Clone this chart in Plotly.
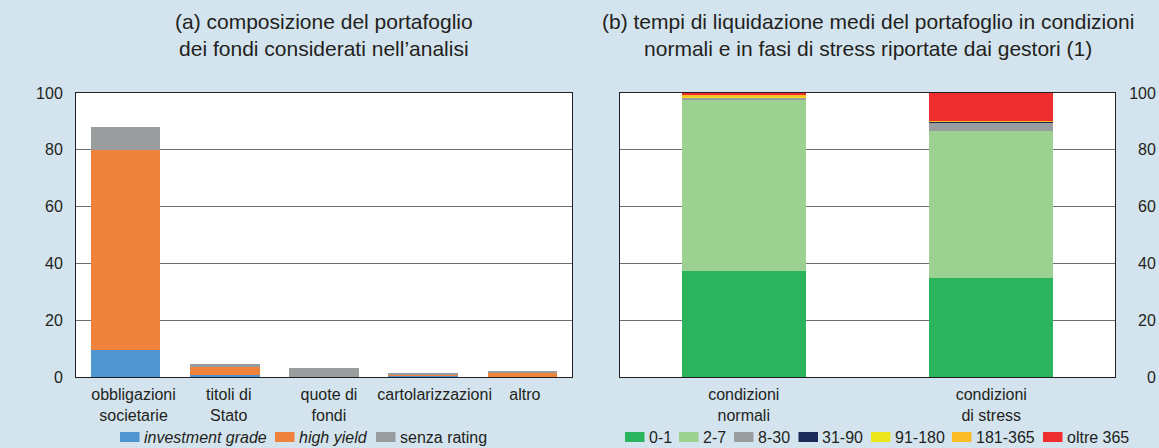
import plotly.graph_objects as go

W, H = 1159, 448

# Panel (a): composition of the funds' portfolio (% of total)
categories_a = ["obbligazioni<br>societarie", "titoli di<br>Stato", "quote di<br>fondi",
                "cartolarizzazioni", "altro"]
investment_grade = [9.4, 0.7, 0.0, 0.7, 0.0]
high_yield = [70.6, 2.9, 0.0, 0.3, 1.4]
senza_rating = [7.9, 1.1, 3.2, 0.3, 0.8]

# Panel (b): average liquidation time of the portfolio (days buckets, %)
categories_b = ["condizioni<br>normali", "condizioni<br>di stress"]
b_0_1 = [37.5, 34.7]
b_2_7 = [60.3, 51.9]
b_8_30 = [0.5, 3.0]
b_31_90 = [0.0, 0.2]
b_91_180 = [0.4, 0.1]
b_181_365 = [0.6, 0.3]
b_oltre_365 = [0.7, 9.8]

y_ticks = [0, 20, 40, 60, 80, 100]

BG = "#d3e4ee"
TXT = "#231f20"
FONT = "Liberation Sans, Arial, sans-serif"

colors_a = {"ig": "#4f95d0", "hy": "#f0833b", "nr": "#9a9d9e"}
colors_b = ["#2bb45e", "#9dd192", "#9a9d9e", "#1b2a57", "#ece71c", "#fbbb26", "#ee2e2e"]
names_a = ["<i>investment grade</i>", "<i>high yield</i>", "senza rating"]
names_b = ["0-1", "2-7", "8-30", "31-90", "91-180", "181-365", "oltre 365"]

# category slots on panel (a); labels are nudged slightly right of the bar centres
pos_a = list(range(len(categories_a)))
label_nudge_a = [0.08, 0.04, 0.05, 0.115, 0.025]

fig = go.Figure()

for name, vals, col in zip(names_a, [investment_grade, high_yield, senza_rating],
                           [colors_a["ig"], colors_a["hy"], colors_a["nr"]]):
    fig.add_trace(go.Bar(x=pos_a, y=vals, name=name, marker_color=col,
                         marker_line_width=0, width=0.7, xaxis="x", yaxis="y",
                         showlegend=False))

for name, vals, col in zip(names_b, [b_0_1, b_2_7, b_8_30, b_31_90, b_91_180, b_181_365, b_oltre_365],
                           colors_b):
    fig.add_trace(go.Bar(x=categories_b, y=vals, name=name, marker_color=col,
                         marker_line_width=0, width=0.5, xaxis="x2", yaxis="y2",
                         showlegend=False))

def px_x(v):
    return v / W

def px_y(v):
    return 1 - v / H

dom_a = [px_x(76), px_x(572)]
dom_b = [px_x(620), px_x(1115)]
dom_y = [px_y(377), px_y(93)]

axis_common = dict(showline=True, linecolor="#231f20", linewidth=1, mirror=True,
                   automargin=False,
                   tickfont=dict(size=16, color=TXT, family=FONT))
yaxis_common = dict(range=[0, 100], tickvals=y_ticks, showgrid=True, gridcolor="#6d6e70",
                    gridwidth=1, zeroline=False, ticks="", **axis_common)
xaxis_common = dict(ticks="", showgrid=False, zeroline=False, ticklabelstandoff=3, **axis_common)

fig.update_layout(
    width=W, height=H,
    margin=dict(l=0, r=0, t=0, b=0, autoexpand=False),
    paper_bgcolor=BG, plot_bgcolor="white",
    barmode="stack", bargap=0.3,
    font=dict(family=FONT, color=TXT, size=16),
    xaxis=dict(domain=dom_a, anchor="y", range=[-0.5, len(categories_a) - 0.5],
               tickvals=[p + n for p, n in zip(pos_a, label_nudge_a)],
               ticktext=categories_a, **xaxis_common),
    yaxis=dict(domain=dom_y, anchor="x", ticklabelstandoff=9, **yaxis_common),
    xaxis2=dict(domain=dom_b, anchor="y2", **xaxis_common),
    yaxis2=dict(domain=dom_y, anchor="x2", side="right", ticklabelstandoff=10,
                ticktext=["\u2007" * (3 - len(str(v))) + str(v) for v in y_ticks],
                **yaxis_common),
)

# Panel titles
fig.add_annotation(text="(a) composizione del portafoglio<br>dei fondi considerati nell\u2019analisi",
                   x=(dom_a[0] + dom_a[1]) / 2, y=px_y(35), xref="paper", yref="paper",
                   xanchor="center", yanchor="middle", showarrow=False,
                   font=dict(size=21, color=TXT, family=FONT))
fig.add_annotation(text="(b) tempi di liquidazione medi del portafoglio in condizioni<br>"
                        "normali e in fasi di stress riportate dai gestori (1)",
                   x=(dom_b[0] + dom_b[1]) / 2, y=px_y(35), xref="paper", yref="paper",
                   xanchor="center", yanchor="middle", showarrow=False,
                   font=dict(size=21, color=TXT, family=FONT))

# Legend rows drawn as swatches + labels under each panel
leg_y = 437
sw_w, sw_h = 19.5, 10

def legend_row(names, colors, starts):
    for name, col, x0 in zip(names, colors, starts):
        fig.add_shape(type="rect", xref="paper", yref="paper",
                      x0=px_x(x0), x1=px_x(x0 + sw_w),
                      y0=px_y(leg_y + sw_h / 2), y1=px_y(leg_y - sw_h / 2),
                      fillcolor=col, line=dict(width=0))
        fig.add_annotation(text=name, x=px_x(x0 + sw_w + 2), y=px_y(leg_y),
                           xref="paper", yref="paper", xanchor="left", yanchor="middle",
                           showarrow=False, font=dict(size=16, color=TXT, family=FONT))

legend_row(names_a, [colors_a["ig"], colors_a["hy"], colors_a["nr"]], [120, 275, 376])
legend_row(names_b, colors_b, [625, 679, 734, 798.5, 871, 952, 1043])

fig.write_html("out.html")
